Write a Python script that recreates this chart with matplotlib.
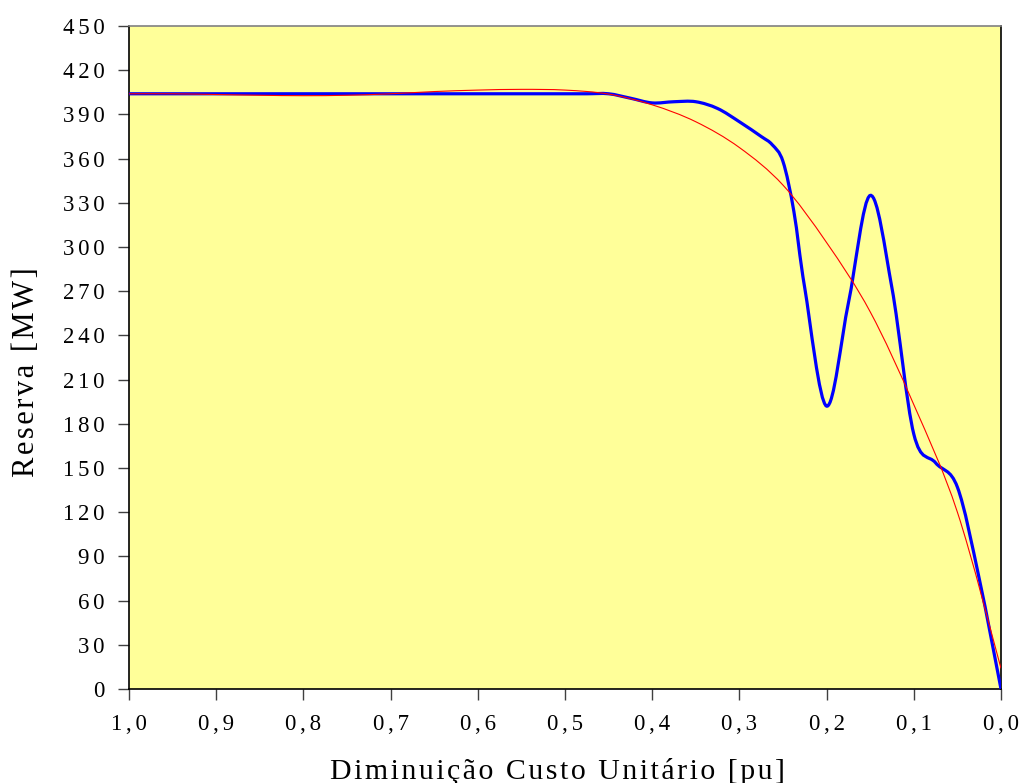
import numpy as np
import matplotlib
matplotlib.use("Agg")
import matplotlib.pyplot as plt
from matplotlib.path import Path
from matplotlib.patches import PathPatch

# ---- data ----
x_reserva = [1.0, 0.975, 0.95, 0.925, 0.9, 0.875, 0.85, 0.825, 0.8, 0.775, 0.75,
             0.725, 0.7, 0.675, 0.65, 0.625, 0.6, 0.575, 0.55, 0.525, 0.5,
             0.475, 0.45, 0.425, 0.4, 0.375, 0.35, 0.325, 0.3, 0.275, 0.2625, 0.25,
             0.2375, 0.225, 0.2, 0.175, 0.15, 0.125, 0.1, 0.075, 0.05, 0.025, 0.0]
reserva = [404, 404, 404, 404, 404, 404, 404, 404, 404, 404, 404,
           404, 404, 404, 404, 404, 404, 404, 404, 404, 404,
           404, 404, 401, 397.8, 398.6, 398.6, 394, 385, 375, 369.5, 358,
           324, 272, 192, 262, 335, 272, 173, 153.5, 137, 75, 0]

x_tendencia = [1.0, 0.95, 0.9, 0.85, 0.8, 0.75, 0.7, 0.65, 0.6, 0.55, 0.5,
               0.45, 0.4, 0.35, 0.3, 0.25, 0.2, 0.15, 0.1, 0.05, 0.0]
tendencia = [404.0, 404.0, 403.5, 403.0, 402.7, 403.0, 404.0, 405.5, 406.5, 407.0, 406.5,
             403.8, 396.5, 385.0, 367.5, 342.0, 303.0, 256.0, 193.0, 120.0, 14.0]

x_ticks = [1.0, 0.9, 0.8, 0.7, 0.6, 0.5, 0.4, 0.3, 0.2, 0.1, 0.0]
y_ticks = list(range(0, 451, 30))

HS = "\u200a"   # hair space (letter spacing of the original rendering)

def spaced(s, sep):
    return sep.join(list(s))

def smooth_path(xs, ys):
    """Excel-like smoothed line: Catmull-Rom drawn as cubic Bezier segments."""
    P = np.column_stack([xs, ys]).astype(float)
    n = len(P)
    verts = [P[0]]
    codes = [Path.MOVETO]
    for i in range(n - 1):
        p0 = P[i - 1] if i > 0 else P[i]
        p1 = P[i]
        p2 = P[i + 1]
        p3 = P[i + 2] if i + 2 < n else P[i + 1]
        c1 = p1 + (p2 - p0) / 6.0
        c2 = p2 - (p3 - p1) / 6.0
        verts += [c1, c2, p2]
        codes += [Path.CURVE4] * 3
    return Path(verts, codes)

fam = ["Liberation Serif", "DejaVu Serif"]
plt.rcParams["font.family"] = fam

fig = plt.figure(figsize=(10.21, 7.83), dpi=100)
ax = fig.add_axes([129 / 1021, 1 - 689 / 783, 872 / 1021, 663 / 783])
ax.set_facecolor("#FFFF99")

ax.add_patch(PathPatch(smooth_path(x_reserva, reserva), fill=False,
                       edgecolor="#0000FF", lw=2.3, capstyle="round", zorder=3))
ax.add_patch(PathPatch(smooth_path(x_tendencia, tendencia), fill=False,
                       edgecolor="#FF0000", lw=0.8, zorder=4))

ax.set_xlim(1.0, 0.0)
ax.set_ylim(0, 450)
ax.set_xticks(x_ticks)
ax.set_xticklabels([spaced(f"{v:.1f}".replace(".", ","), HS * 2) for v in x_ticks],
                   fontsize=16.5, family=fam)
ax.set_yticks(y_ticks)
ax.set_yticklabels([spaced(str(v), HS * 2) for v in y_ticks], fontsize=16.5, family=fam)
ax.tick_params(axis="both", direction="out", length=8, width=1.0, color="#404040",
               labelcolor="black")
ax.tick_params(axis="x", pad=10)
ax.tick_params(axis="y", pad=9.5)

for side in ["left", "bottom", "right"]:
    ax.spines[side].set_color("black")
    ax.spines[side].set_linewidth(1.2)
ax.spines["top"].set_color("#808080")
ax.spines["top"].set_linewidth(1.2)

ax.set_xlabel(spaced("Diminuição Custo Unitário [pu]", HS), fontsize=21.5, family=fam,
              va="baseline")
ax.xaxis.set_label_coords(0.491, (689 - 779) / 663)
ax.set_ylabel(spaced("Reserva [MW]", HS), fontsize=22, family=fam, va="baseline")
ax.yaxis.set_label_coords((34 - 129) / 872, (689 - 372) / 663)

fig.savefig("out.png", dpi=100, facecolor="white")
